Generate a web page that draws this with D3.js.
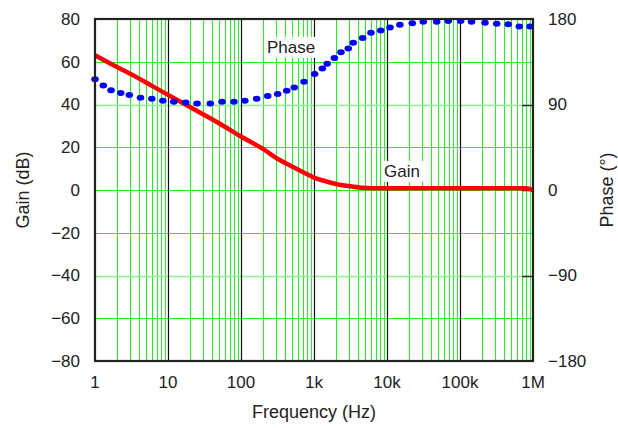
<!DOCTYPE html>
<html>
<head>
<meta charset="utf-8">
<script src="https://cdn.jsdelivr.net/npm/d3@7"></script>
<style>
  body { margin: 0; background: #fff; }
  text { font-family: "Liberation Sans", Arial, sans-serif; fill: #222; }
</style>
</head>
<body>
<svg id="chart" width="618" height="428"></svg>
<script>
// Gain curve
var gainFreq = [1, 2, 3, 5, 10, 20, 50, 100, 200, 320, 500, 700, 1000, 1400, 2000, 3000, 4500, 9400, 100000, 800000, 1000000];
var gainDb = [63, 57.5, 54.5, 50.3, 44.5, 38.8, 31.2, 25, 19.2, 14.5, 11, 8.4, 5.8, 4.2, 2.8, 1.8, 1.1, 0.8, 0.8, 0.8, 0];

// Phase dots
var phaseFreq = [1, 1.3, 1.66, 2.25, 2.95, 4.2, 6, 8.5, 12, 17.5, 25, 38, 55, 80, 113, 164, 232, 318,
  423, 537, 730, 1020, 1300, 1515, 1900, 2340, 2950, 3450, 4640, 6030, 8200, 11000, 15000, 22200,
  31400, 47900, 69000, 102000, 144000, 220000, 318000, 458000, 650000, 910000];
var phaseDeg = [116.5, 110, 105, 102, 100, 97, 96, 94, 93, 92, 91, 91, 93, 93, 94, 96, 99, 101,
  104.5, 108, 114, 122, 128, 133, 139, 145, 149, 155, 160, 165.6, 168, 171, 174, 175.5,
  177, 177, 178, 178, 177, 176, 175, 174.5, 172, 172];

var gainTicks = [-80, -60, -40, -20, 0, 20, 40, 60, 80];
var phaseTicks = [-180, -90, 0, 90, 180];
var freqTicks = [1, 10, 100, 1e3, 1e4, 1e5, 1e6];
var freqLabels = ["1", "10", "100", "1k", "10k", "100k", "1M"];

var margin = {left: 95, top: 19, right: 85, bottom: 67};
var width = 618 - margin.left - margin.right;
var height = 428 - margin.top - margin.bottom;

var svg = d3.select("#chart");
var g = svg.append("g").attr("transform", "translate(" + margin.left + "," + margin.top + ")");

var x = d3.scaleLog().domain([1, 1e6]).range([0, width]);
var yGain = d3.scaleLinear().domain([-80, 80]).range([height, 0]);
var yPhase = d3.scaleLinear().domain([-180, 180]).range([height, 0]);

// minor vertical grid
var minor = [];
for (var d = 1; d < 1e6; d *= 10) {
  for (var k = 2; k <= 9; k++) minor.push(d * k);
}
g.selectAll(".minor").data(minor).enter().append("line")
  .attr("x1", function (d) { return Math.round(x(d)) + 0.5; })
  .attr("x2", function (d) { return Math.round(x(d)) + 0.5; })
  .attr("y1", 0).attr("y2", height)
  .style("stroke", "#22ee22").style("stroke-width", 1);

// horizontal grid (gain)
g.selectAll(".hgrid").data(gainTicks.slice(1, -1)).enter().append("line")
  .attr("x1", 0).attr("x2", width)
  .attr("y1", function (d) { return Math.round(yGain(d)) + 0.5; })
  .attr("y2", function (d) { return Math.round(yGain(d)) + 0.5; })
  .style("stroke", "#22ee22").style("stroke-width", 1);

// phase grid at +-90
g.selectAll(".pgrid").data([-90, 90]).enter().append("line")
  .attr("x1", 0).attr("x2", width)
  .attr("y1", function (d) { return Math.round(yPhase(d)) + 0.5; })
  .attr("y2", function (d) { return Math.round(yPhase(d)) + 0.5; })
  .style("stroke", "#8ef08e").style("stroke-width", 1.5);

// decade lines
g.selectAll(".decade").data(freqTicks.slice(1, -1)).enter().append("line")
  .attr("x1", function (d) { return Math.round(x(d)) + 0.5; })
  .attr("x2", function (d) { return Math.round(x(d)) + 0.5; })
  .attr("y1", 0).attr("y2", height)
  .style("stroke", "#111").style("stroke-width", 1.2);

// right axis inner ticks
g.selectAll(".rtick").data([-90, 0, 90]).enter().append("line")
  .attr("x1", width - 11).attr("x2", width)
  .attr("y1", function (d) { return Math.round(yPhase(d)) + 0.5; })
  .attr("y2", function (d) { return Math.round(yPhase(d)) + 0.5; })
  .style("stroke", "#222").style("stroke-width", 1.5);

// labels on plot
function boxLabel(txt, cx, cy) {
  var t = g.append("text").attr("x", cx).attr("y", cy).attr("text-anchor", "middle")
    .attr("dy", "0.35em").style("font-size", "17px").text(txt);
  var b = t.node().getBBox();
  g.insert("rect", function () { return t.node(); })
    .attr("x", b.x - 3).attr("y", b.y - 1).attr("width", b.width + 6).attr("height", b.height + 2)
    .style("fill", "#fff");
}
boxLabel("Phase", 196, 28);
boxLabel("Gain", 307, 152);

// gain curve
var gainLine = d3.line()
  .x(function (d, i) { return x(gainFreq[i]); })
  .y(function (d) { return yGain(d); })
  .curve(d3.curveMonotoneX);
g.append("path").datum(gainDb)
  .attr("d", gainLine)
  .style("fill", "none").style("stroke", "#ff0000").style("stroke-width", 4.5);

// phase dots
g.selectAll(".dot").data(phaseDeg).enter().append("ellipse")
  .attr("cx", function (d, i) { return x(phaseFreq[i]); })
  .attr("cy", function (d) { return yPhase(d); })
  .attr("rx", 3.8).attr("ry", 3)
  .style("fill", "#0000ff");

// frame
g.append("rect").attr("x", 0).attr("y", 0).attr("width", width).attr("height", height)
  .style("fill", "none").style("stroke", "#222").style("stroke-width", 2.2);

// tick labels
var fmt = function (v) { return v < 0 ? "\u2212" + Math.abs(v) : "" + v; };
g.selectAll(".gl").data(gainTicks).enter().append("text")
  .attr("x", -15).attr("y", function (d) { return yGain(d); }).attr("dy", "0.35em")
  .attr("text-anchor", "end").style("font-size", "17px").text(fmt);
g.selectAll(".pl").data(phaseTicks).enter().append("text")
  .attr("x", width + 15).attr("y", function (d) { return yPhase(d); }).attr("dy", "0.35em")
  .attr("text-anchor", "start").style("font-size", "17px").text(fmt);
g.selectAll(".fl").data(freqTicks).enter().append("text")
  .attr("x", function (d) { return x(d); }).attr("y", height + 21).attr("dy", "0.35em")
  .attr("text-anchor", "middle").style("font-size", "17px")
  .text(function (d, i) { return freqLabels[i]; });

// axis titles
svg.append("text").attr("x", margin.left + width / 2).attr("y", 418)
  .attr("text-anchor", "middle").style("font-size", "18px").text("Frequency (Hz)");
svg.append("text").attr("transform", "translate(29," + (margin.top + height / 2) + ") rotate(-90)")
  .attr("text-anchor", "middle").style("font-size", "18px").text("Gain (dB)");
svg.append("text").attr("transform", "translate(613," + (margin.top + height / 2) + ") rotate(-90)")
  .attr("text-anchor", "middle").style("font-size", "18px").text("Phase (\u00b0)");
</script>
</body>
</html>
